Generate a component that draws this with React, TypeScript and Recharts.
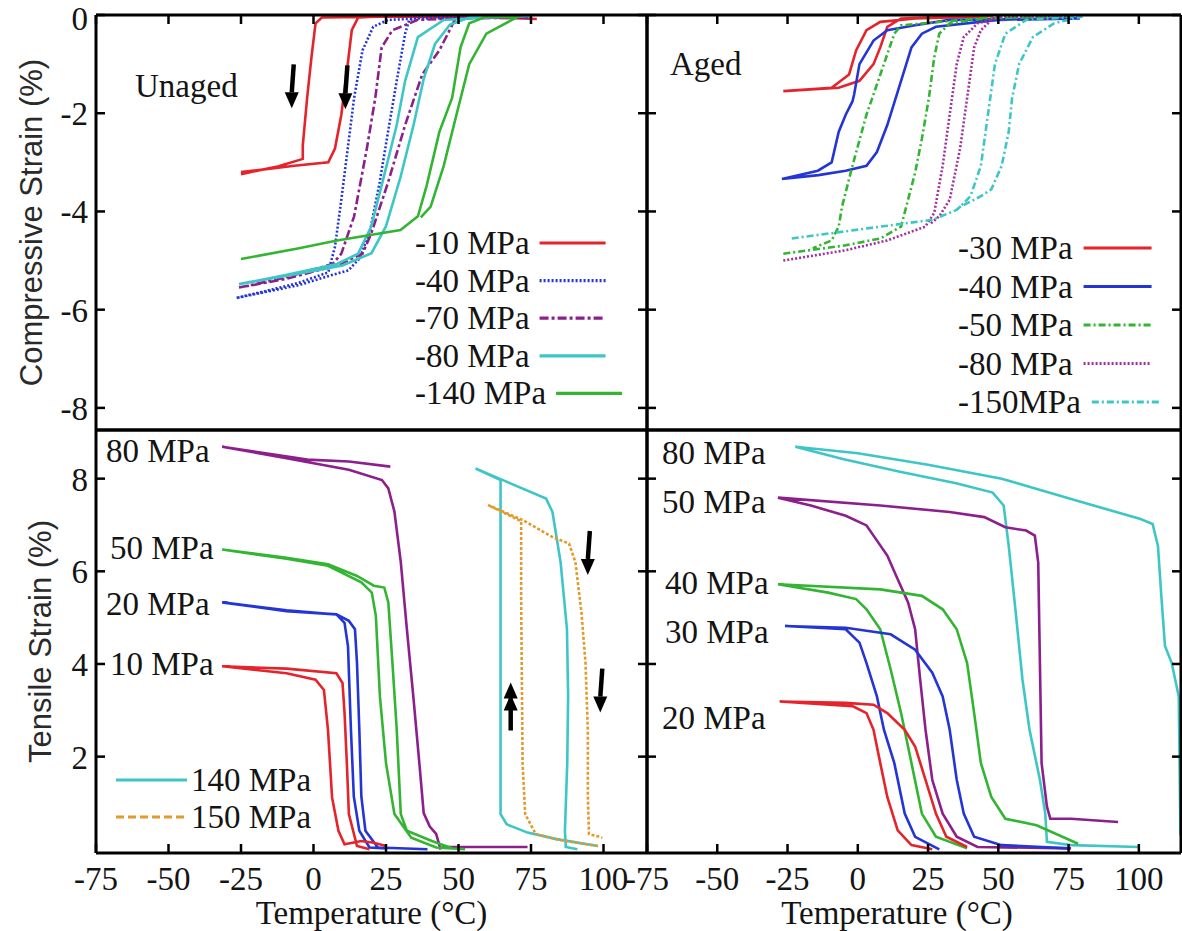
import React from 'react';
import { LineChart, Line, XAxis, YAxis, ReferenceDot, Label } from 'recharts';

const SERIF = '"Liberation Serif"';
const SANS = '"Liberation Sans"';
const INK = '#141414';

// ---------- axes ----------
const tempTicks = [-75, -50, -25, 0, 25, 50, 75, 100];
const compTicks = [0, -2, -4, -6, -8];
const tensTicks = [2, 4, 6, 8];
const tempDomain: [number, number] = [-75, 115];
const compDomain: [number, number] = [-8.45, 0];
const tensDomain: [number, number] = [-0.08, 9.05];

// ---------- colours ----------
const RED = '#e4232b';
const BLUE = '#2435d6';
const PURPLE = '#8c1f8c';
const MAGENTA = '#a0309c';
const CYAN = '#3ec6c6';
const GREEN = '#33b533';
const ORANGE = '#e29a2c';

// ---------- Unaged, compressive (top-left) : [T °C, strain %] ----------
const unagedC10 = [[-25, -3.24], [-12, -3.08], [-3.7, -2.93], [-3.7, -2.66], [-2.2, -1.69], [-0.7, -0.86], [0.7, -0.17], [2.9, -0.05], [30, -0.03], [60, -0.05], [77, -0.08], [55, -0.04], [30, -0.02], [15.4, -0.05], [13.2, -0.31], [11.8, -1.0], [9.6, -2.03], [7.4, -2.72], [5.1, -3.0], [-6.6, -3.07], [-25, -3.2]];
const unagedC40 = [[-26.5, -5.76], [-15, -5.6], [-5, -5.45], [5.1, -5.24], [7.4, -4.72], [9.6, -3.76], [11.8, -2.72], [14, -1.69], [16.9, -0.72], [20.6, -0.24], [25.7, -0.1], [36, -0.07], [60, -0.05], [75, -0.05], [36, -0.06], [33, -0.1], [31.6, -0.38], [28.7, -1.34], [25.7, -2.38], [22.8, -3.41], [19.5, -4.4], [16, -4.95], [12, -5.2], [6, -5.3], [-5, -5.5], [-26.5, -5.76]];
const unagedC70 = [[-25.7, -5.55], [-10, -5.35], [6.6, -5.07], [9.6, -4.86], [14, -4.1], [18.4, -2.72], [21.3, -1.69], [23.5, -0.66], [27.2, -0.31], [36, -0.1], [49, -0.07], [60, -0.05], [75, -0.05], [49, -0.07], [43.4, -0.72], [37.5, -1.21], [31.6, -2.24], [25.7, -3.41], [19.9, -4.45], [16.9, -4.86], [8, -5.1], [-10, -5.38], [-25.7, -5.55]];
const unagedC80 = [[-25.7, -5.48], [-10, -5.3], [8.1, -5.07], [15.4, -4.86], [19.9, -4.31], [24.3, -3.28], [28.7, -2.24], [31.6, -1.34], [36, -0.45], [44.9, -0.1], [60, -0.05], [75, -0.02], [53.7, -0.05], [47, -0.2], [41.9, -0.59], [38, -1.3], [34.5, -2.24], [30, -3.3], [25, -4.3], [20, -4.85], [10, -5.1], [-10, -5.32], [-25.7, -5.48]];
const unagedC140 = [[-25, -4.97], [-5, -4.75], [8.1, -4.59], [30, -4.38], [36, -4.1], [39, -3.48], [43.4, -2.38], [47.8, -1.69], [50.7, -0.66], [53.7, -0.17], [59.6, -0.03], [70, -0.05], [59.6, -0.38], [53.7, -1.0], [49.3, -2.03], [44.9, -3.07], [40.4, -3.9], [37, -4.12]];

// ---------- Aged, compressive (top-right) ----------
const agedC30 = [[-26.5, -1.55], [-9.3, -1.48], [-3.1, -1.21], [-0.6, -0.72], [3.1, -0.31], [8, -0.14], [20.4, -0.07], [45, -0.03], [48, -0.02], [30, -0.04], [15.4, -0.07], [10.5, -0.24], [8, -0.66], [5.6, -1.0], [0.6, -1.34], [-6.8, -1.48], [-26.5, -1.55]];
const agedC40 = [[-27, -3.34], [-14.2, -3.17], [-9.3, -3.0], [-6.8, -2.38], [-4.3, -2.03], [-1.9, -1.76], [-1.3, -1.62], [0.6, -1.0], [5.6, -0.52], [10.5, -0.31], [20.4, -0.21], [32.7, -0.1], [79, -0.07], [50, -0.1], [27.8, -0.24], [22.8, -0.38], [19.1, -0.66], [15.4, -1.34], [10.5, -2.24], [6.8, -2.79], [3.1, -3.07], [-4.3, -3.17], [-14, -3.26], [-27, -3.34]];
const agedC50 = [[-26.5, -4.86], [-4.3, -4.69], [8, -4.55], [15.4, -4.31], [20.4, -3.21], [22.8, -2.52], [25.3, -1.69], [27.2, -0.86], [29, -0.38], [32.7, -0.17], [45, -0.07], [76, -0.03], [45, -0.06], [15.4, -0.21], [13, -0.38], [9.3, -1.0], [3.1, -2.03], [-1.9, -3.07], [-5.6, -3.9], [-6.8, -4.31], [-9.3, -4.59], [-16, -4.75]];
const agedC80 = [[-26.5, -5.0], [-4.3, -4.79], [10.5, -4.59], [24, -4.31], [27.2, -4.03], [30.2, -3.07], [32.7, -2.03], [35.2, -1.0], [37.7, -0.45], [42.6, -0.17], [51.5, -0.03], [78, -0.02], [48.8, -0.03], [43.8, -0.31], [41.4, -0.66], [38.9, -1.69], [36.4, -2.72], [32.7, -3.76], [29, -4.1], [26, -4.24]];
const agedC150 = [[-23.5, -4.55], [8, -4.31], [26.5, -4.17], [35.2, -3.97], [40.1, -3.69], [43.8, -3.07], [46.3, -2.03], [48.8, -1.0], [52.5, -0.38], [59.9, -0.1], [80, -0.03], [69.8, -0.17], [62.3, -0.45], [57.4, -1.0], [54.9, -1.69], [53.7, -2.38], [51.2, -3.07], [47.5, -3.55], [43.8, -3.69], [35, -3.95]];

// ---------- Unaged, tensile (bottom-left) ----------
const unagedT80 = [[26.5, 8.26], [12.2, 8.37], [-2.1, 8.41], [-31.5, 8.69], [-9.3, 8.44], [12.2, 8.19], [23.6, 7.97], [25.8, 7.79], [27.9, 7.29], [30.1, 6.2], [32.2, 4.75], [34.4, 3.31], [36.5, 1.86], [38, 0.78], [40.1, 0.49], [42.3, 0.33], [43.7, 0.02], [45, 0.05], [73.8, 0.05]];
const unagedT50 = [[52.3, 0], [42.3, 0.04], [33.7, 0.25], [27.9, 0.76], [25, 1.86], [22.9, 3.3], [21.5, 5.04], [20.1, 5.54], [16.5, 5.76], [5, 6.12], [-9.3, 6.27], [-31.5, 6.47], [-9.3, 6.29], [5, 6.15], [15, 5.9], [20.8, 5.69], [24.4, 5.65], [25.8, 5.33], [27.2, 4.04], [28.7, 2.59], [30.1, 0.76], [32.2, 0.4], [40.8, 0.18], [48, 0.02]];
const unagedT20 = [[39.3, 0], [22.2, 0.04], [17.9, 0.4], [16.5, 1.14], [15.8, 2.59], [15, 4.02], [14.3, 4.75], [12.2, 4.93], [7.9, 5.07], [-9.3, 5.14], [-31.5, 5.33], [-9.3, 5.16], [7.9, 5.07], [10.7, 4.89], [11.9, 4.38], [12.9, 2.59], [13.9, 1.14], [15.8, 0.4], [19.3, 0.04], [25, 0.02]];
const unagedT10 = [[25, 0.07], [20.8, 0.14], [16.5, 0.18], [10.7, 0.11], [8.6, 0.4], [6.4, 1.12], [5, 2.57], [3.6, 3.44], [0.7, 3.66], [-9.3, 3.8], [-31.5, 3.95], [-9.3, 3.9], [7.9, 3.8], [10, 3.59], [10.7, 2.95], [11.5, 1.86], [12.2, 0.76], [15, 0.07], [19.3, 0.0]];
const unagedT140 = [[98.1, 0.07], [83.8, 0.22], [73.8, 0.36], [66.6, 0.54], [64.5, 0.76], [64.5, 7.97], [55.9, 8.22], [64.5, 7.99], [80.2, 7.57], [82.4, 7.28], [85.2, 6.2], [87.4, 4.75], [87.8, 3.31], [87.5, 1.86], [86.7, 0.4], [87, 0.05], [91, 0]];
const unagedT150 = [[98, 0.07], [85, 0.2], [76.6, 0.33], [73, 0.76], [72.1, 1.86], [71.6, 5.47], [71.6, 7.08], [60.2, 7.43], [72.3, 7.1], [82.4, 6.74], [88.1, 6.6], [90.3, 6.2], [92.4, 5.11], [93.8, 4.02], [94.6, 2.57], [94.6, 1.14], [95, 0.33], [99.6, 0.25]];

// ---------- Aged, tensile (bottom-right) ----------
const agedT80 = [[100, 0.05], [75.9, 0.09], [67.3, 0.16], [66.7, 0.77], [64.8, 1.5], [61.1, 2.58], [58.6, 3.66], [56.2, 5.11], [53.7, 6.55], [51.9, 7.42], [48, 7.7], [35, 7.9], [15, 8.15], [-5, 8.42], [-22.2, 8.69], [0, 8.55], [25, 8.3], [51.2, 8.0], [75.9, 7.56], [100.6, 7.13], [104.9, 7.02], [106.8, 6.55], [108, 5.47], [109.3, 4.39], [111.7, 4.02], [114.2, 3.3], [114.8, 0.3]];
const agedT50 = [[92.6, 0.59], [75.9, 0.66], [68.5, 0.66], [67.3, 0.92], [65.4, 1.86], [64.8, 4.02], [64.2, 6.19], [63, 6.77], [59.9, 6.88], [52.5, 6.95], [45, 7.17], [32.7, 7.28], [8, 7.42], [-28.4, 7.59], [-16.7, 7.42], [-4.3, 7.2], [3.1, 6.99], [5.6, 6.77], [10.5, 6.34], [14.2, 5.83], [17.9, 5.33], [20.4, 4.75], [22.2, 3.66], [24.1, 2.58], [26.5, 1.5], [30.2, 0.77], [35.2, 0.27], [42.6, 0.05], [75.9, 0.02]];
const agedT40 = [[78.4, 0.12], [63.6, 0.52], [52.5, 0.66], [47.5, 1.13], [43.8, 1.86], [41.4, 2.94], [38.9, 4.02], [35.2, 4.75], [30.2, 5.18], [22.8, 5.47], [8, 5.61], [-28.4, 5.72], [-10.5, 5.54], [-0.6, 5.4], [3.1, 5.18], [8, 4.75], [11.7, 3.88], [15.4, 2.94], [19.1, 1.86], [22.8, 0.77], [27.8, 0.27], [38.9, 0.02]];
const agedT30 = [[75, 0.02], [51.2, 0.09], [41.4, 0.27], [37.7, 0.77], [35.2, 1.5], [32.7, 2.58], [30.2, 3.3], [26.5, 3.81], [20.4, 4.31], [11.7, 4.64], [-4.3, 4.78], [-25.9, 4.82], [-4.3, 4.75], [0.6, 4.46], [3.1, 4.02], [6.8, 3.3], [9.3, 2.58], [13, 1.86], [16.7, 0.77], [20.4, 0.27], [29, 0.0]];
const agedT20 = [[38.9, 0.05], [31.5, 0.27], [27.8, 0.77], [24.1, 1.5], [20.4, 2.22], [16.7, 2.58], [10.5, 2.94], [5.6, 3.12], [-4.3, 3.16], [-27.8, 3.19], [-1.9, 3.09], [3.1, 2.94], [5.6, 2.58], [8, 1.86], [10.5, 1.13], [14.2, 0.41], [19.1, 0.09], [26.5, 0.0]];

// ---------- arrows: [T, strain at tip, direction (1 = down, -1 = up)] ----------
const unagedCArrows = [[-7.5, -1.9, 1], [11, -1.92, 1]];
const unagedTArrows = [[94.6, 5.92, 1], [68, 3.6, -1], [98.9, 2.95, 1]];

type Series = { name: string; color: string; dash?: string; data: number[][] };

const unagedCSeries: Series[] = [
  { name: '-10 MPa', color: RED, data: unagedC10 },
  { name: '-40 MPa', color: BLUE, dash: '2 2', data: unagedC40 },
  { name: '-70 MPa', color: PURPLE, dash: '9 3 3 3', data: unagedC70 },
  { name: '-80 MPa', color: CYAN, data: unagedC80 },
  { name: '-140 MPa', color: GREEN, data: unagedC140 },
];
const agedCSeries: Series[] = [
  { name: '-30 MPa', color: RED, data: agedC30 },
  { name: '-40 MPa', color: BLUE, data: agedC40 },
  { name: '-50 MPa', color: GREEN, dash: '7 3 2 3', data: agedC50 },
  { name: '-80 MPa', color: MAGENTA, dash: '2 2', data: agedC80 },
  { name: '-150MPa', color: CYAN, dash: '7 3 2 3', data: agedC150 },
];
const unagedTSeries: Series[] = [
  { name: '80 MPa', color: PURPLE, data: unagedT80 },
  { name: '50 MPa', color: GREEN, data: unagedT50 },
  { name: '20 MPa', color: BLUE, data: unagedT20 },
  { name: '10 MPa', color: RED, data: unagedT10 },
  { name: '140 MPa', color: CYAN, data: unagedT140 },
  { name: '150 MPa', color: ORANGE, dash: '3 2', data: unagedT150 },
];
const agedTSeries: Series[] = [
  { name: '80 MPa', color: CYAN, data: agedT80 },
  { name: '50 MPa', color: PURPLE, data: agedT50 },
  { name: '40 MPa', color: GREEN, data: agedT40 },
  { name: '30 MPa', color: BLUE, data: agedT30 },
  { name: '20 MPa', color: RED, data: agedT20 },
];

const toPts = (a: number[][]) => a.map(([x, y]) => ({ x, y }));

// Times-like advance widths (em) for legend layout
const CW: Record<string, number> = { '-': 0.333, ' ': 0.25, M: 0.889, P: 0.556, a: 0.444 };
const textW = (s: string, fs: number) => s.split('').reduce((w, c) => w + (CW[c] ?? 0.5), 0) * fs;

const FS = 33;
const AXW = 3;

// ---------- tick renderers ----------
const bottomTick = (showLabel: boolean) => (p: any) => (
  <g>
    <line x1={p.x} x2={p.x} y1={p.y} y2={p.y - 9} stroke="#000" strokeWidth={2.5} />
    {showLabel && (
      <text x={p.x} y={p.y + 37} textAnchor="middle" fontFamily={SERIF} fontSize={FS} fill={INK}>
        {p.payload.value}
      </text>
    )}
  </g>
);
const topTick = (p: any) => <line x1={p.x} x2={p.x} y1={p.y} y2={p.y + 9} stroke="#000" strokeWidth={2.5} />;
const leftTick = (showLabel: boolean) => (p: any) => (
  <g>
    <line x1={p.x} x2={p.x + 9} y1={p.y} y2={p.y} stroke="#000" strokeWidth={2.5} />
    {showLabel && (
      <text x={p.x - 8} y={p.y < 30 ? p.y + 15 : p.y + 12} textAnchor="end" fontFamily={SERIF} fontSize={FS} fill={INK}>
        {p.payload.value}
      </text>
    )}
  </g>
);
const rightTick = (p: any) => <line x1={p.x} x2={p.x - 9} y1={p.y} y2={p.y} stroke="#000" strokeWidth={2.5} />;

const arrowShape = (dir: number) => (p: any) => {
  const { cx, cy } = p;
  const len = dir > 0 ? 44 : 48;
  const head = 16;
  const hw = 7;
  const tail = cy - dir * len;
  const neck = cy - dir * head;
  return (
    <g>
      <line x1={cx + (dir > 0 ? 2 : 0)} y1={tail} x2={cx} y2={neck} stroke="#000" strokeWidth={4.5} />
      <polygon points={`${cx},${cy} ${cx - hw},${neck} ${cx + hw},${neck}`} fill="#000" />
      {dir < 0 && <polygon points={`${cx},${cy + 12} ${cx - hw},${neck + 12} ${cx + hw},${neck + 12}`} fill="#000" />}
    </g>
  );
};

type PanelProps = {
  left: number; top: number; width: number; height: number;
  margin: { top: number; right: number; bottom: number; left: number };
  leftW: number; bottomH: number;
  yDomain: [number, number]; yTicks: number[];
  series: Series[];
  isTop: boolean; showYLabels: boolean;
  yTitle?: string; yTitleOffset?: number;
  xTitleDx?: number;
  arrows?: number[][];
};

function Panel(props: PanelProps) {
  const { left, top, width, height, margin, leftW, bottomH, yDomain, yTicks, series, isTop, showYLabels, yTitle, yTitleOffset, xTitleDx, arrows } = props;
  const axisLine = { stroke: '#000', strokeWidth: AXW };
  return (
    <div style={{ position: 'absolute', left, top }}>
      <LineChart width={width} height={height} margin={margin}>
        <XAxis
          xAxisId="b" type="number" dataKey="x" domain={tempDomain} ticks={tempTicks} interval={0}
          allowDataOverflow height={bottomH} axisLine={axisLine} tickLine={false} tickSize={0} tickMargin={0}
          tick={isTop ? false : bottomTick(true)}
        >
          {!isTop && (
            <Label value="Temperature (°C)" position="insideBottom" offset={7} dx={xTitleDx ?? 0}
              style={{ fontFamily: SERIF, fontSize: FS, fill: INK }} />
          )}
        </XAxis>
        <XAxis
          xAxisId="t" orientation="top" type="number" dataKey="x" domain={tempDomain} ticks={tempTicks} interval={0}
          allowDataOverflow height={1} axisLine={axisLine} tickLine={false} tickSize={0} tickMargin={0}
          tick={isTop ? topTick : false}
        />
        <YAxis
          yAxisId="l" type="number" domain={yDomain} ticks={yTicks} interval={0} allowDataOverflow
          width={leftW} axisLine={axisLine} tickLine={false} tickSize={0} tickMargin={0}
          tick={leftTick(showYLabels)}
        >
          {yTitle && (
            <Label value={yTitle} angle={-90} position="insideLeft" offset={yTitleOffset}
              style={{ textAnchor: 'middle', fontFamily: SANS, fontSize: 31, fill: '#2a2a2a' }} />
          )}
        </YAxis>
        <YAxis
          yAxisId="r" orientation="right" type="number" domain={yDomain} ticks={yTicks} interval={0} allowDataOverflow
          width={1} axisLine={axisLine} tickLine={false} tickSize={0} tickMargin={0} tick={rightTick}
        />
        {series.map((s) => (
          <Line
            key={s.name + s.color}
            xAxisId="b" yAxisId="l"
            data={toPts(s.data)} dataKey="y" name={s.name}
            type="linear" stroke={s.color} strokeWidth={2.6} strokeDasharray={s.dash}
            dot={false} activeDot={false} isAnimationActive={false}
          />
        ))}
        {(arrows ?? []).map((a, i) => (
          <ReferenceDot key={i} xAxisId="b" yAxisId="l" x={a[0]} y={a[1]} r={1} shape={arrowShape(a[2])} />
        ))}
      </LineChart>
    </div>
  );
}

function LegendRows({ items, x, y0, dy, gap, len }: { items: Series[]; x: number; y0: number; dy: number; gap: number; len: number }) {
  return (
    <g>
      {items.map((s, i) => {
        const y = y0 + i * dy;
        const w = textW(s.name, FS);
        return (
          <g key={s.name}>
            <text x={x} y={y + 11} fontFamily={SERIF} fontSize={FS} fill={INK}>{s.name}</text>
            <line x1={x + w + gap} x2={x + w + gap + len} y1={y} y2={y} stroke={s.color} strokeWidth={3.2} strokeDasharray={s.dash} />
          </g>
        );
      })}
    </g>
  );
}

function T({ x, y, children }: { x: number; y: number; children: React.ReactNode }) {
  return <text x={x} y={y + 11} fontFamily={SERIF} fontSize={FS} fill={INK}>{children}</text>;
}

export default function App() {
  const tl = unagedTSeries;
  return (
    <div style={{ position: 'absolute', left: 0, top: 0, width: 1182, height: 931, background: '#fff', overflow: 'hidden' }}>
      <Panel left={0} top={0} width={660} height={440} margin={{ top: 14, right: 12, bottom: 9, left: 0 }}
        leftW={96} bottomH={1} yDomain={compDomain} yTicks={compTicks} series={unagedCSeries}
        isTop showYLabels yTitle="Compressive Strain (%)" yTitleOffset={31} arrows={unagedCArrows} />
      <Panel left={600} top={0} width={582} height={440} margin={{ top: 14, right: 0, bottom: 9, left: 0 }}
        leftW={47} bottomH={1} yDomain={compDomain} yTicks={compTicks} series={agedCSeries}
        isTop showYLabels={false} />
      <Panel left={0} top={420} width={660} height={511} margin={{ top: 9, right: 12, bottom: 0, left: 0 }}
        leftW={96} bottomH={78} yDomain={tensDomain} yTicks={tensTicks} series={unagedTSeries}
        isTop={false} showYLabels yTitle="Tensile Strain (%)" yTitleOffset={40} arrows={unagedTArrows} />
      <Panel left={600} top={420} width={582} height={511} margin={{ top: 9, right: 0, bottom: 0, left: 0 }}
        leftW={47} bottomH={78} yDomain={tensDomain} yTicks={tensTicks} series={agedTSeries}
        isTop={false} showYLabels={false} xTitleDx={-17} />

      <svg width={1182} height={931} style={{ position: 'absolute', left: 0, top: 0, pointerEvents: 'none' }}>
        <LegendRows items={unagedCSeries} x={415} y0={243} dy={37.6} gap={10} len={66} />
        <LegendRows items={agedCSeries} x={958} y0={248} dy={38.5} gap={11} len={68} />
        {[tl[4], tl[5]].map((s, i) => (
          <g key={s.name}>
            <line x1={116} x2={187} y1={780 + i * 37} y2={780 + i * 37} stroke={s.color} strokeWidth={3.2} strokeDasharray={s.dash ? '8 4' : undefined} />
            <text x={191} y={791 + i * 37} fontFamily={SERIF} fontSize={FS} fill={INK}>{s.name}</text>
          </g>
        ))}
        <text x={135} y={97} fontFamily={SERIF} fontSize={FS} fill={INK}>Unaged</text>
        <text x={670} y={75} fontFamily={SERIF} fontSize={FS} fill={INK}>Aged</text>
        <T x={106} y={451}>{tl[0].name}</T>
        <T x={110} y={548}>{tl[1].name}</T>
        <T x={106} y={604}>{tl[2].name}</T>
        <T x={110} y={664}>{tl[3].name}</T>
        <T x={662} y={453}>{agedTSeries[0].name}</T>
        <T x={662} y={502}>{agedTSeries[1].name}</T>
        <T x={665} y={583}>{agedTSeries[2].name}</T>
        <T x={665} y={632}>{agedTSeries[3].name}</T>
        <T x={662} y={718}>{agedTSeries[4].name}</T>
      </svg>
    </div>
  );
}
